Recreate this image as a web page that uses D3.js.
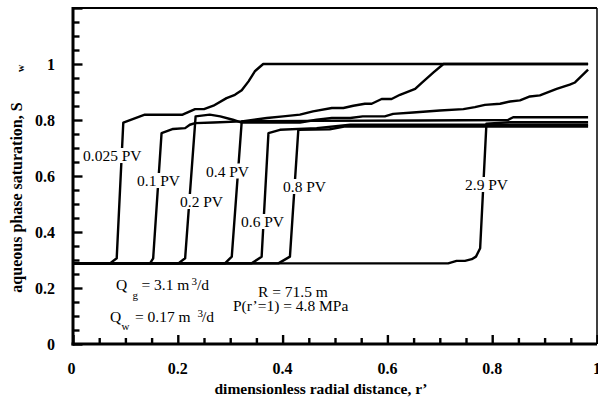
<!DOCTYPE html>
<html><head><meta charset="utf-8">
<script src="https://cdn.jsdelivr.net/npm/d3@7"></script>
<style>body{margin:0;background:#fff}svg{display:block}</style>
</head><body>
<svg id="c" width="598" height="402"></svg>
<script>
// ---- data ----
const xTickValues = [0, 0.2, 0.4, 0.6, 0.8, 1];
const yTickValues = [0, 0.2, 0.4, 0.6, 0.8, 1];
const xTickLabels = ["0", "0.2", "0.4", "0.6", "0.8", "1"];
const yTickLabels = ["0", "0.2", "0.4", "0.6", "0.8", "1"];
const seriesNames = ["0.025 PV", "0.1 PV", "0.2 PV", "0.4 PV", "0.6 PV", "0.8 PV", "2.9 PV"];
const initialSw = 0.288;

const pv0025 = [[0,0.288],[0.0706,0.288],[0.0834,0.306],[0.096,0.791],[0.137,0.819],[0.209,0.819],[0.233,0.839],[0.25,0.839],[0.268,0.851],[0.293,0.878],[0.309,0.89],[0.322,0.906],[0.335,0.938],[0.347,0.974],[0.363,1.0],[0.983,1.0]];
const pv01 = [[0,0.288],[0.147,0.288],[0.153,0.306],[0.169,0.753],[0.191,0.768],[0.214,0.771],[0.223,0.783],[0.233,0.789],[0.268,0.791],[0.322,0.795],[0.370,0.807],[0.401,0.813],[0.433,0.819],[0.458,0.831],[0.494,0.843],[0.516,0.843],[0.535,0.851],[0.557,0.858],[0.570,0.858],[0.589,0.875],[0.608,0.875],[0.624,0.89],[0.653,0.911],[0.665,0.932],[0.688,0.970],[0.707,1.0],[0.983,1.0]];
const pv02 = [[0,0.288],[0.201,0.288],[0.214,0.306],[0.234,0.813],[0.261,0.819],[0.281,0.813],[0.305,0.801],[0.322,0.791],[0.368,0.791],[0.433,0.791],[0.465,0.801],[0.494,0.807],[0.529,0.807],[0.553,0.813],[0.595,0.813],[0.611,0.822],[0.649,0.827],[0.700,0.834],[0.745,0.839],[0.767,0.846],[0.786,0.854],[0.815,0.858],[0.834,0.866],[0.853,0.87],[0.872,0.884],[0.891,0.888],[0.923,0.911],[0.948,0.926],[0.958,0.934],[0.983,0.98]];
const pv04 = [[0,0.288],[0.290,0.288],[0.303,0.312],[0.322,0.795],[0.45,0.797],[0.66,0.798],[0.83,0.800],[0.84,0.810],[0.983,0.810]];
const pv06 = [[0,0.288],[0.341,0.288],[0.360,0.312],[0.373,0.753],[0.395,0.765],[0.465,0.771],[0.529,0.783],[0.983,0.783]];
const pv08 = [[0,0.288],[0.392,0.288],[0.414,0.312],[0.430,0.765],[0.49,0.767],[0.52,0.777],[0.983,0.777]];
const pv29 = [[0,0.288],[0.716,0.288],[0.732,0.297],[0.748,0.297],[0.761,0.303],[0.769,0.312],[0.777,0.342],[0.789,0.787],[0.834,0.792],[0.983,0.792]];
const seriesData = [pv0025, pv01, pv02, pv04, pv06, pv08, pv29];

// ---- layout ----
const svg = d3.select("#c");
const L = 73, R = 597, T = 8, B = 344;
const x = d3.scaleLinear().domain([0, 1]).range([L, R]);
const y = d3.scaleLinear().domain([0, 1.2]).range([B, T]);
const serif = "'Liberation Serif','Times New Roman',serif";

// curves
const line = d3.line().x(d => x(d[0])).y(d => y(d[1]));
svg.append("g").selectAll("path").data(seriesData).join("path")
  .attr("d", line).attr("fill", "none").attr("stroke", "#000")
  .attr("stroke-width", 2.4).attr("stroke-linejoin", "round").attr("stroke-linecap", "butt");

// curve labels (white knockout)
const labelPos = [[83,161],[137,186],[180,207],[206,176.5],[241,227],[283,192],[465,190]];
const lg = svg.append("g");
seriesNames.forEach((n, i) => {
  const g = lg.append("g");
  const t = g.append("text").attr("x", labelPos[i][0]).attr("y", labelPos[i][1])
    .attr("font-family", serif).attr("font-size", 15.5).text(n);
  const bb = t.node().getBBox();
  g.insert("rect", "text").attr("x", bb.x - 1).attr("y", bb.y + 1)
    .attr("width", bb.width + 2).attr("height", bb.height - 2).attr("fill", "#fff");
});

// annotations
const ann = svg.append("g").attr("font-family", serif).attr("font-size", 15.5).attr("fill", "#000");
function txt(s, px, py, fs) { ann.append("text").attr("x", px).attr("y", py).attr("font-size", fs || 15.5).text(s); }
txt("Q", 116, 290); txt("g", 132.5, 299, 11); txt("= 3.1 m", 141.5, 290); txt("3", 191.5, 285, 11); txt("/d", 197, 290);
txt("Q", 110, 322); txt("w", 121.5, 330, 11); txt("= 0.17 m", 135, 322); txt("3", 197.5, 317, 11); txt("/d", 202, 322);
txt("R = 71.5 m", 258, 296.5);
txt("P(r\u2019=1) = 4.8 MPa", 233, 311);

// axes frame
svg.append("line").attr("x1", L).attr("x2", R).attr("y1", T).attr("y2", T).attr("stroke", "#000").attr("stroke-width", 2.2);
svg.append("line").attr("x1", R).attr("x2", R).attr("y1", T).attr("y2", B).attr("stroke", "#000").attr("stroke-width", 1.5);

const xAxis = d3.axisBottom(x).tickValues(d3.range(0, 1.0001, 0.05)).tickSize(0).tickFormat("");
const gx = svg.append("g").attr("transform", `translate(0,${B})`).call(xAxis);
gx.select(".domain").remove();
gx.selectAll(".tick line").attr("y1", 0).attr("y2", (d, i) => i % 4 === 0 ? -9 : -6).attr("stroke", "#000").attr("stroke-width", 2.4);

const yAxis = d3.axisLeft(y).tickValues(d3.range(0, 1.2001, 0.05)).tickSize(0).tickFormat("");
const gy = svg.append("g").attr("transform", `translate(${L},0)`).call(yAxis);
gy.select(".domain").remove();
gy.selectAll(".tick line").attr("x1", 0).attr("x2", (d, i) => i % 4 === 0 ? 9.5 : 6.5).attr("stroke", "#000").attr("stroke-width", 2.4);

svg.append("line").attr("x1", L).attr("x2", L).attr("y1", T - 1).attr("y2", B + 1.5).attr("stroke", "#000").attr("stroke-width", 3);
svg.append("line").attr("x1", L - 1.5).attr("x2", R).attr("y1", B).attr("y2", B).attr("stroke", "#000").attr("stroke-width", 3);

// tick labels
svg.append("g").selectAll("text").data(xTickValues).join("text")
  .attr("x", d => x(d) - (d === 0 ? 1.5 : 0)).attr("y", 374).attr("text-anchor", "middle")
  .attr("font-family", serif).attr("font-weight", "bold").attr("font-size", 16)
  .text((d, i) => xTickLabels[i]);
svg.append("g").selectAll("text").data(yTickValues).join("text")
  .attr("x", 55).attr("y", d => y(d)).attr("dy", "0.35em").attr("text-anchor", "end")
  .attr("font-family", serif).attr("font-weight", "bold").attr("font-size", 16)
  .text((d, i) => yTickLabels[i]);

// axis titles
svg.append("text").attr("x", 321).attr("y", 394).attr("text-anchor", "middle")
  .attr("font-family", serif).attr("font-weight", "bold").attr("font-size", 15.5)
  .text("dimensionless radial distance, r\u2019");
svg.append("text").attr("transform", "translate(22,197.5) rotate(-90)").attr("text-anchor", "middle")
  .attr("font-family", serif).attr("font-weight", "bold").attr("font-size", 16)
  .text("aqueous phase saturation, S");
svg.append("text").attr("transform", "translate(24,68.5) rotate(-90)").attr("text-anchor", "middle")
  .attr("font-family", serif).attr("font-weight", "bold").attr("font-size", 10)
  .text("w");
</script>
</body></html>
